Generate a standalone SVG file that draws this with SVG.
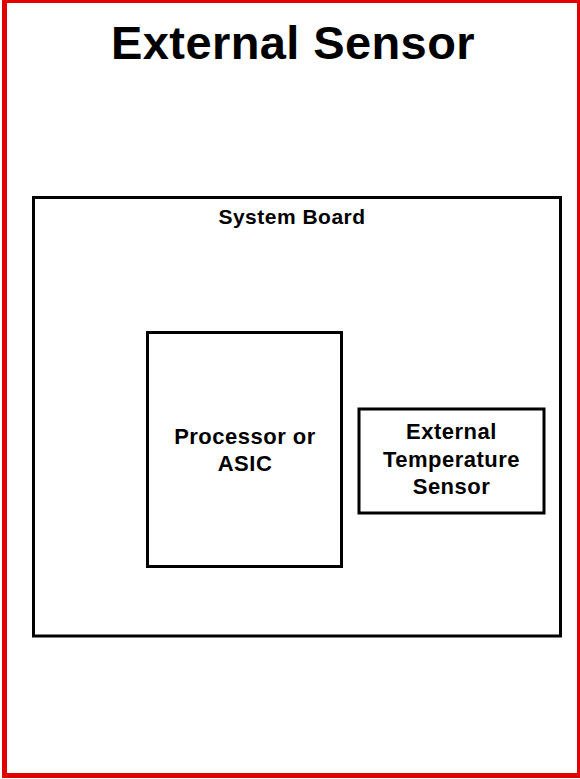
<svg xmlns="http://www.w3.org/2000/svg" width="580" height="779" viewBox="0 0 580 779">
  <style>
    .frame { fill: #ffffff; stroke: #e00000; stroke-width: 5; }
    .box { fill: none; stroke: #000000; stroke-width: 3; stroke-linejoin: miter; }
    text { font-family: "Liberation Sans", Arial, sans-serif; font-weight: bold; fill: #000000; text-anchor: middle; }
    .title { font-size: 47px; letter-spacing: 0.4px; }
    .label { font-size: 22px; letter-spacing: 0.5px; }
    .small { font-size: 21px; letter-spacing: 0.5px; }
  </style>
  <rect width="580" height="779" fill="#ffffff"/>
  <g id="frame">
    <rect class="frame" x="4.5" y="0.5" width="575" height="775"/>
    <text class="title" x="293" y="59">External Sensor</text>
  </g>
  <g id="system-board">
    <rect class="box" x="33.5" y="197.5" width="527" height="438.5"/>
    <text class="small" x="292" y="224">System Board</text>
  </g>
  <g id="processor">
    <rect class="box" x="147.5" y="332.5" width="194" height="234"/>
    <text class="label" x="245" y="444">Processor or</text>
    <text class="label" x="245" y="471">ASIC</text>
  </g>
  <g id="temp-sensor">
    <rect class="box" x="359" y="409" width="185" height="104"/>
    <text class="label" x="451.5" y="439">External</text>
    <text class="label" x="451.5" y="467">Temperature</text>
    <text class="label" x="451.5" y="494">Sensor</text>
  </g>
  <g id="connectors"></g>
</svg>
